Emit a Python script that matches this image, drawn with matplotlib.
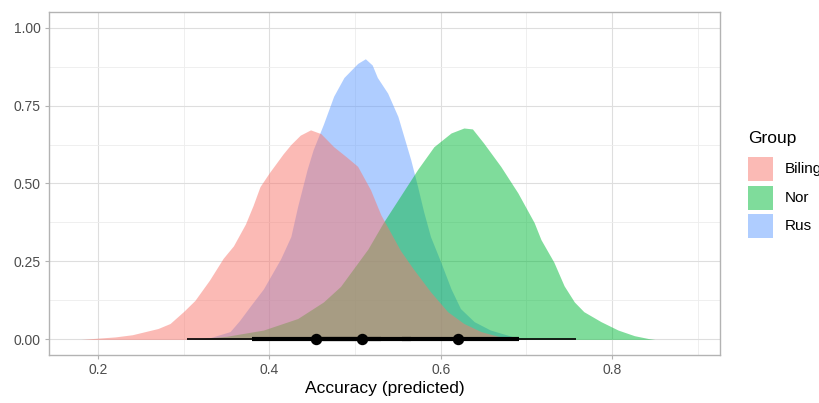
import numpy as np
import matplotlib.pyplot as plt
from matplotlib.patches import Rectangle

plt.rcParams["font.family"] = ["Liberation Sans", "DejaVu Sans"]

groups = ["Biling", "Nor", "Rus"]
colors = {"Biling": "#F8766D", "Nor": "#00BA38", "Rus": "#619CFF"}

# density curves
biling_x = [0.18, 0.20, 0.22, 0.24, 0.255, 0.27, 0.284, 0.30, 0.313, 0.33, 0.346, 0.358, 0.372,
            0.381, 0.389, 0.40, 0.416, 0.425, 0.436, 0.448, 0.46, 0.475, 0.49, 0.503, 0.518,
            0.53, 0.541, 0.553, 0.568, 0.588, 0.608, 0.627, 0.647, 0.667, 0.69, 0.71]
biling_y = [0.0, 0.004, 0.008, 0.015, 0.025, 0.035, 0.051, 0.09, 0.125, 0.19, 0.26, 0.30, 0.37,
            0.43, 0.49, 0.535, 0.595, 0.625, 0.655, 0.672, 0.66, 0.618, 0.585, 0.555, 0.48,
            0.40, 0.345, 0.285, 0.226, 0.153, 0.089, 0.051, 0.025, 0.01, 0.003, 0.0]

rus_x = [0.30, 0.33, 0.354, 0.365, 0.378, 0.393, 0.413, 0.425, 0.433, 0.444, 0.451, 0.463,
         0.475, 0.487, 0.503, 0.512, 0.52, 0.526, 0.538, 0.55, 0.557, 0.565, 0.573, 0.58,
         0.588, 0.60, 0.612, 0.623, 0.639, 0.658, 0.685, 0.70]
rus_y = [0.0, 0.005, 0.025, 0.06, 0.108, 0.162, 0.258, 0.33, 0.427, 0.545, 0.608, 0.69,
         0.78, 0.84, 0.885, 0.90, 0.88, 0.84, 0.79, 0.715, 0.65, 0.576, 0.49, 0.41,
         0.33, 0.248, 0.162, 0.099, 0.057, 0.03, 0.008, 0.0]

nor_x = [0.31, 0.35, 0.393, 0.433, 0.463, 0.483, 0.495, 0.515, 0.533, 0.553, 0.573,
         0.592, 0.612, 0.627, 0.637, 0.65, 0.67, 0.69, 0.709, 0.717, 0.732, 0.744, 0.756,
         0.767, 0.787, 0.807, 0.826, 0.842, 0.85]
nor_y = [0.0, 0.01, 0.03, 0.067, 0.12, 0.17, 0.215, 0.29, 0.375, 0.46, 0.545,
         0.618, 0.662, 0.678, 0.675, 0.63, 0.555, 0.47, 0.375, 0.32, 0.248, 0.172, 0.12,
         0.089, 0.057, 0.03, 0.012, 0.003, 0.0]

dens = {"Biling": (biling_x, biling_y), "Nor": (nor_x, nor_y), "Rus": (rus_x, rus_y)}

# median, 66% and 95% intervals
medians = {"Biling": 0.454, "Nor": 0.620, "Rus": 0.508}
int66 = {"Biling": (0.380, 0.530), "Nor": (0.555, 0.691), "Rus": (0.455, 0.565)}
int95 = {"Biling": (0.304, 0.620), "Nor": (0.490, 0.758), "Rus": (0.400, 0.600)}

fig = plt.figure(figsize=(8.19, 4.03), dpi=100)
ax = fig.add_axes([49/819, 1-355/403, (720-49)/819, (355-12)/403])

for g in ["Rus", "Nor", "Biling"]:
    x, y = dens[g]
    ax.fill_between(x, 0, y, color=colors[g], alpha=0.5, lw=0, zorder=2)

for g in groups:
    ax.plot(int95[g], [0, 0], color="black", lw=1.2, solid_capstyle="butt", zorder=3)
    ax.plot(int66[g], [0, 0], color="black", lw=3.0, solid_capstyle="butt", zorder=4)
    ax.plot(medians[g], 0, "o", color="black", ms=7.2, zorder=5)

ax.set_xlim(0.1427, 0.926)
ax.set_ylim(-0.05, 1.05)
ax.set_xticks([0.2, 0.4, 0.6, 0.8])
ax.set_xticklabels(["0.2", "0.4", "0.6", "0.8"])
ax.set_yticks([0, 0.25, 0.5, 0.75, 1.0])
ax.set_yticklabels(["0.00", "0.25", "0.50", "0.75", "1.00"])
ax.set_xticks([0.3, 0.5, 0.7, 0.9], minor=True)
ax.set_yticks([0.125, 0.375, 0.625, 0.875], minor=True)
ax.grid(True, which="major", color="#DEDEDE", lw=0.8, zorder=0)
ax.grid(True, which="minor", color="#EDEDED", lw=0.6, zorder=0)
ax.set_axisbelow(True)
ax.tick_params(which="major", length=3, width=0.8, color="#B3B3B3", labelsize=10,
               labelcolor="#4D4D4D", pad=3)
ax.tick_params(which="minor", length=0)
for s in ax.spines.values():
    s.set_color("#B3B3B3")
    s.set_linewidth(1.0)
ax.set_xlabel("Accuracy (predicted)", fontsize=12.5, color="black", labelpad=3)

# legend (the reference clips "Biling" at the right edge too)
fig.text(748/819, 1-138/403, "Group", fontsize=12.5, va="center", ha="left")
for i, g in enumerate(groups):
    top = 157 + i*28.5
    fig.patches.append(Rectangle((748/819, 1-(top+24)/403), 25/819, 24/403,
                                 transform=fig.transFigure, facecolor=colors[g],
                                 alpha=0.5, lw=0))
    fig.text(785/819, 1-(top+12)/403, g, fontsize=11, va="center", ha="left")

plt.savefig("out.png", dpi=100)
